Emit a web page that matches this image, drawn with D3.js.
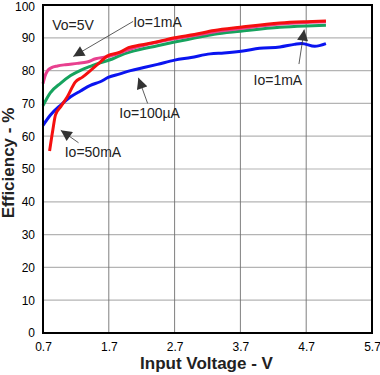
<!DOCTYPE html>
<html>
<head>
<meta charset="utf-8">
<script src="https://cdn.jsdelivr.net/npm/d3@7"></script>
<style>
  body { margin: 0; background: #fff; }
  text { font-family: 'Liberation Sans', Arial, sans-serif; }
</style>
</head>
<body>
<script>
// data
const xTicks = [0.7, 1.7, 2.7, 3.7, 4.7, 5.7];
const yTicks = [0, 10, 20, 30, 40, 50, 60, 70, 80, 90, 100];

const vin50mA  = [0.80, 0.85, 0.89, 0.97, 1.07, 1.19, 1.30, 1.42, 1.57, 1.68, 1.87, 2.00, 2.18, 2.44, 2.70, 3.00, 3.30, 3.70, 4.30, 4.70, 5.00];
const eff50mA  = [55.5, 62.0, 66.5, 69.0, 72.0, 76.5, 78.0, 80.0, 82.6, 84.5, 85.6, 87.0, 87.8, 88.8, 90.0, 91.0, 92.2, 93.2, 94.5, 94.9, 95.1];

const vin1mA   = [0.70, 0.73, 0.77, 0.83, 0.92, 1.04, 1.22, 1.37, 1.50, 1.69, 1.92, 2.10, 2.40, 2.70, 3.00, 3.30, 3.70, 4.30, 4.70, 5.00];
const eff1mA   = [76.0, 78.3, 80.0, 80.9, 81.4, 81.8, 82.2, 82.6, 83.6, 84.3, 85.8, 87.0, 88.5, 89.7, 90.7, 91.8, 92.8, 94.2, 94.7, 94.9];

const vinGreen = [0.70, 0.81, 0.97, 1.12, 1.27, 1.42, 1.57, 1.72, 1.87, 2.03, 2.44, 2.70, 3.00, 3.30, 3.70, 4.30, 4.70, 5.00];
const effGreen = [69.3, 73.2, 76.2, 78.5, 80.1, 81.3, 82.4, 83.3, 84.6, 85.7, 87.6, 88.7, 89.9, 91.1, 92.0, 93.2, 93.6, 93.8];

const vin100uA = [0.70, 0.81, 0.97, 1.12, 1.27, 1.42, 1.57, 1.69, 1.87, 2.03, 2.25, 2.44, 2.70, 2.95, 3.24, 3.45, 3.74, 3.99, 4.30, 4.52, 4.63, 4.83, 5.00];
const eff100uA = [63.3, 66.4, 69.5, 72.0, 73.8, 75.5, 76.6, 77.9, 79.0, 80.0, 81.0, 81.9, 83.2, 84.0, 85.1, 85.4, 86.0, 86.8, 87.2, 88.0, 88.3, 87.4, 88.2];

const series = [
  {x: vin100uA, y: eff100uA, color: '#0a14f0'},
  {x: vinGreen, y: effGreen, color: '#16a35e'},
  {x: vin1mA,   y: eff1mA,   color: '#e8408f'},
  {x: vin50mA,  y: eff50mA,  color: '#f50f0f'}
];

// labels: text, position in data units, arrow from/to in data units
const notes = [
  {text: 'Vo=5V',    tx: 0.84, ty: 92.3, from: null},
  {text: 'Io=1mA',   tx: 2.07, ty: 93.3, from: [2.07, 95.0], to: [1.16, 84.3]},
  {text: 'Io=100µA', tx: 1.86, ty: 65.5, from: [2.29, 70.0], to: [2.15, 77.8]},
  {text: 'Io=1mA',   tx: 3.9,  ty: 75.5, from: [4.59, 82.0], to: [4.67, 92.5]},
  {text: 'Io=50mA',  tx: 1.03, ty: 53.7, from: [1.24, 58.0], to: [0.97, 61.8]}
];

const svgWid = 380;
const svgHt = 375;
const margin = {top: 5, right: 8, bottom: 42, left: 43};
const innerW = svgWid - margin.left - margin.right;
const innerH = svgHt - margin.top - margin.bottom;

const svg = d3.select('body').append('svg').attr('width', svgWid).attr('height', svgHt);

const xScale = d3.scaleLinear().domain([0.7, 5.7]).range([0, innerW]);
const yScale = d3.scaleLinear().domain([0, 100]).range([innerH, 0]);

const g = svg.append('g').attr('transform', `translate(${margin.left},${margin.top})`);

//grid
g.selectAll('.hgrid').data(yTicks.filter(d => d > 0 && d < 100)).enter()
  .append('line').attr('class', 'hgrid')
  .attr('x1', 0).attr('x2', innerW)
  .attr('y1', d => yScale(d)).attr('y2', d => yScale(d))
  .attr('stroke', '#b4b4b4').attr('stroke-width', 1.2);
g.selectAll('.vgrid').data(xTicks.slice(1, -1)).enter()
  .append('line').attr('class', 'vgrid')
  .attr('x1', d => xScale(d)).attr('x2', d => xScale(d))
  .attr('y1', 0).attr('y2', innerH)
  .attr('stroke', '#707070').attr('stroke-width', 0.9);

//axes (labels only)
const xAxis = d3.axisBottom(xScale).tickValues(xTicks).tickSize(0).tickPadding(9).tickFormat(d3.format('.1f'));
const xAxisG = g.append('g').attr('transform', `translate(0,${innerH})`).call(xAxis);
xAxisG.select('.domain').remove();
xAxisG.selectAll('text').attr('font-size', '12px').attr('fill', '#000')
  .style('font-family', "'Liberation Sans', Arial, sans-serif");

const yAxis = d3.axisLeft(yScale).tickValues(yTicks).tickSize(0).tickPadding(8);
const yAxisG = g.append('g').call(yAxis);
yAxisG.select('.domain').remove();
yAxisG.selectAll('text').attr('font-size', '12px').attr('fill', '#000')
  .style('font-family', "'Liberation Sans', Arial, sans-serif");
// keep the top label inside the picture
yAxisG.selectAll('.tick').filter(d => d === 100).select('text').attr('dy', '0.45em');

//curves
const line = d3.line().x(d => xScale(d[0])).y(d => yScale(d[1])).curve(d3.curveMonotoneX);
series.forEach(s => {
  g.append('path')
    .attr('d', line(s.x.map((v, i) => [v, s.y[i]])))
    .attr('fill', 'none')
    .attr('stroke', s.color)
    .attr('stroke-width', 3)
    .attr('stroke-linejoin', 'round');
});

//frame
g.append('rect').attr('x', 0).attr('y', 0).attr('width', innerW).attr('height', innerH)
  .attr('fill', 'none').attr('stroke', '#000').attr('stroke-width', 2);

//annotations
svg.append('defs').append('marker')
  .attr('id', 'head').attr('viewBox', '0 0 10 10')
  .attr('refX', 10).attr('refY', 5)
  .attr('markerWidth', 13).attr('markerHeight', 11)
  .attr('markerUnits', 'userSpaceOnUse')
  .attr('orient', 'auto')
  .append('path').attr('d', 'M0,0 L10,5 L0,10 Z').attr('fill', '#333');

notes.forEach(n => {
  if (n.from) {
    g.append('line')
      .attr('x1', xScale(n.from[0])).attr('y1', yScale(n.from[1]))
      .attr('x2', xScale(n.to[0])).attr('y2', yScale(n.to[1]))
      .attr('stroke', '#333').attr('stroke-width', 0.8)
      .attr('marker-end', 'url(#head)');
  }
  g.append('text').text(n.text)
    .attr('x', xScale(n.tx)).attr('y', yScale(n.ty))
    .attr('font-size', '14px').attr('fill', '#222');
});

//axis titles
svg.append('text').text('Input Voltage - V')
  .attr('x', margin.left + innerW / 2 - 1).attr('y', 369)
  .attr('text-anchor', 'middle').attr('font-size', '17px').attr('font-weight', 'bold').attr('fill', '#222');
svg.append('text').text('Efficiency - %')
  .attr('transform', `translate(14,${163}) rotate(-90)`)
  .attr('text-anchor', 'middle').attr('font-size', '17px').attr('font-weight', 'bold').attr('fill', '#222');
</script>
</body>
</html>
